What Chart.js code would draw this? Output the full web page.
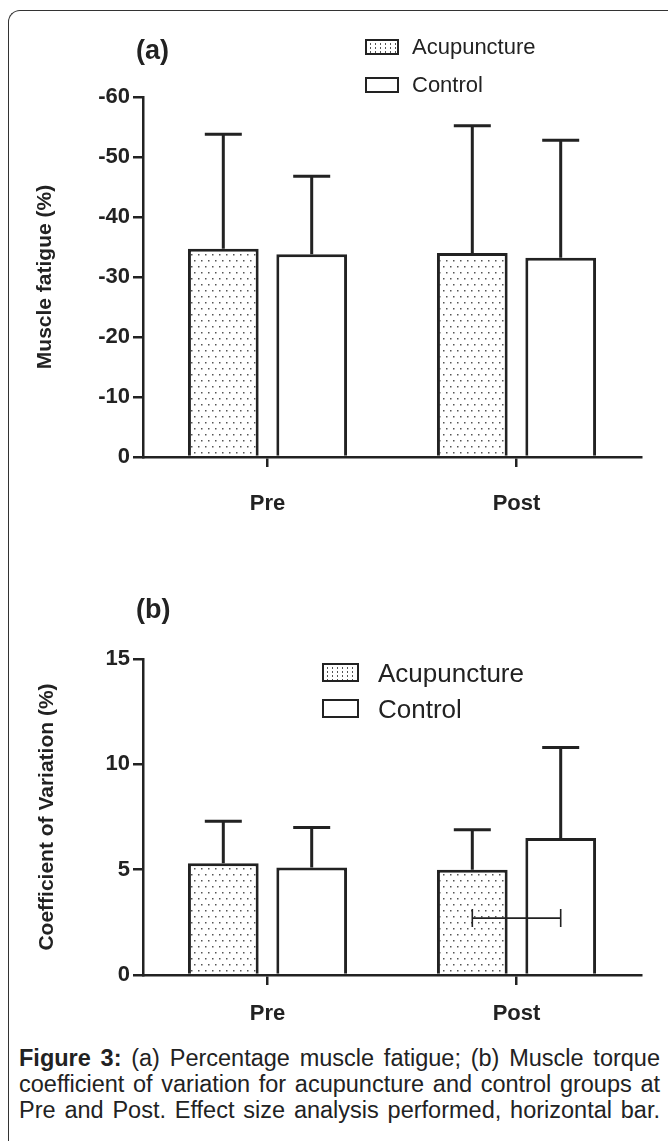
<!DOCTYPE html>
<html>
<head>
<meta charset="utf-8">
<script src="https://cdn.jsdelivr.net/npm/chart.js@4.4.1/dist/chart.umd.min.js"></script>
<style>
  body { margin: 0; background: #fff; }
  #page { position: relative; width: 668px; height: 1141px; overflow: hidden; background: #fff;
    font-family: "Liberation Sans", Arial, sans-serif; color: #222; }
  #frame { position: absolute; left: 8px; top: 10px; width: 720px; height: 1200px;
    border-left: 1.5px solid #333; border-top: 1.5px solid #333; border-top-left-radius: 12px; }
  canvas { position: absolute; left: 0; }
  .panel { position: absolute; font-weight: bold; font-size: 27px; }
  .leg { position: absolute; line-height: 1; }
  .sw { position: absolute; box-sizing: border-box; border: 2.5px solid #222; background: #fff; }
  .sw.dots { background-color: #fff;
    background-image: radial-gradient(circle, #555 0.8px, transparent 1.1px);
    background-size: 5px 4px; background-position: 1px 1px; }
  #caption { position: absolute; left: 19px; top: 1045px; width: 641px; font-size: 23.5px; line-height: 26px; }
  #caption div { white-space: nowrap; text-align: justify; text-align-last: justify; }
</style>
</head>
<body>
<div id="page">
  <div id="frame"></div>
  <canvas id="chartA" width="668" height="527" style="top:0"></canvas>
  <canvas id="chartB" width="668" height="485" style="top:560px"></canvas>

  <div class="panel" style="left:136px; top:35px;">(a)</div>
  <div class="sw dots" style="left:365px; top:39px; width:34px; height:16px;"></div>
  <div class="leg" style="left:412px; top:36px; font-size:22px;">Acupuncture</div>
  <div class="sw" style="left:365px; top:77px; width:34px; height:16px;"></div>
  <div class="leg" style="left:412px; top:74px; font-size:22px;">Control</div>

  <div class="panel" style="left:136px; top:594px;">(b)</div>
  <div class="sw dots" style="left:322px; top:663px; width:37px; height:19px;"></div>
  <div class="leg" style="left:378px; top:660px; font-size:26px;">Acupuncture</div>
  <div class="sw" style="left:322px; top:699px; width:37px; height:19px;"></div>
  <div class="leg" style="left:378px; top:696px; font-size:26px;">Control</div>

  <div id="caption">
    <div><b>Figure 3:</b> (a) Percentage muscle fatigue; (b) Muscle torque</div>
    <div>coefficient of variation for acupuncture and control groups at</div>
    <div>Pre and Post. Effect size analysis performed, horizontal bar.</div>
  </div>
</div>

<script>
/* ---------------- DATA ---------------- */
const categories = ["Pre", "Post"];
const seriesNames = ["Acupuncture", "Control"];

// (a) muscle fatigue (%), bar means and top of the error bars
const fatigueAcupuncture = [-34.7, -34.0];
const fatigueControl = [-33.8, -33.2];
const fatigueAcupunctureErr = [-53.8, -55.2];
const fatigueControlErr = [-46.8, -52.8];

// (b) coefficient of variation (%)
const cvAcupuncture = [5.3, 5.0];
const cvControl = [5.1, 6.5];
const cvAcupunctureErr = [7.3, 6.9];
const cvControlErr = [7.0, 10.8];
const cvEffectSizeLevel = 2.7;   // height of the effect size bar at Post

/* ---------------- STYLE HELPERS ---------------- */
const INK = "#222";
const FONT = '"Liberation Sans", Arial, sans-serif';

function dotPattern() {
  const c = document.createElement("canvas");
  c.width = 14; c.height = 12;
  const g = c.getContext("2d");
  g.fillStyle = "#fff";
  g.fillRect(0, 0, 14, 12);
  g.fillStyle = "#555";
  [[2, 2], [9, 2], [5, 8], [12, 8]].forEach(p => g.fillRect(p[0], p[1], 1.5, 1.5));
  return g.createPattern(c, "repeat");
}

// error bars drawn upward only, plus optional effect size bar
function errorBarPlugin(tops, effect) {
  return {
    id: "errorBars",
    afterDatasetsDraw(chart) {
      const ctx = chart.ctx;
      const y = chart.scales.y;
      ctx.save();
      ctx.strokeStyle = INK;
      ctx.lineCap = "butt";
      tops.forEach((arr, di) => {
        chart.getDatasetMeta(di).data.forEach((bar, i) => {
          const yTop = y.getPixelForValue(arr[i]);
          ctx.lineWidth = 3;
          ctx.beginPath();
          ctx.moveTo(bar.x, bar.y);
          ctx.lineTo(bar.x, yTop);
          ctx.moveTo(bar.x - 18.5, yTop);
          ctx.lineTo(bar.x + 18.5, yTop);
          ctx.stroke();
        });
      });
      if (effect) {
        const x1 = chart.getDatasetMeta(0).data[effect.index].x;
        const x2 = chart.getDatasetMeta(1).data[effect.index].x;
        const yy = y.getPixelForValue(effect.level);
        ctx.lineWidth = 1.6;
        ctx.beginPath();
        ctx.moveTo(x1, yy); ctx.lineTo(x2, yy);
        ctx.moveTo(x1, yy - 9); ctx.lineTo(x1, yy + 9);
        ctx.moveTo(x2, yy - 9); ctx.lineTo(x2, yy + 9);
        ctx.stroke();
      }
      ctx.restore();
    }
  };
}

function makeChart(id, acup, ctrl, yOpts, padTop, labelPad, tops, effect) {
  const ctx = document.getElementById(id).getContext("2d");
  return new Chart(ctx, {
    type: "bar",
    data: {
      labels: categories,
      datasets: [
        { label: seriesNames[0], data: acup, backgroundColor: dotPattern(),
          borderColor: INK, borderWidth: 3, borderSkipped: "bottom" },
        { label: seriesNames[1], data: ctrl, backgroundColor: "#fff",
          borderColor: INK, borderWidth: 3, borderSkipped: "bottom" }
      ]
    },
    options: {
      responsive: false,
      animation: false,
      categoryPercentage: 0.71,
      barPercentage: 0.8,
      layout: { padding: { top: padTop, right: 27, left: 0, bottom: 0 } },
      plugins: { legend: { display: false }, tooltip: { enabled: false } },
      scales: {
        x: {
          grid: { drawOnChartArea: false, offset: false, tickLength: 10, color: INK, lineWidth: 2.5 },
          border: { color: INK, width: 2.5 },
          ticks: { color: INK, padding: labelPad, font: { family: FONT, size: 22, weight: "bold" } },
          afterFit: s => { s.height = 70; }
        },
        y: Object.assign({
          grid: { drawOnChartArea: false, tickLength: 10, color: INK, lineWidth: 2.5 },
          border: { color: INK, width: 2.5 },
          afterFit: s => { s.width = 143; }
        }, yOpts)
      }
    },
    plugins: [errorBarPlugin(tops, effect)]
  });
}

/* ---------------- (a) MUSCLE FATIGUE ---------------- */
makeChart("chartA", fatigueAcupuncture, fatigueControl, {
  reverse: true, min: -60, max: 0,
  ticks: { stepSize: 10, color: INK, padding: 3, font: { family: FONT, size: 22, weight: "bold" } },
  title: { display: true, text: "Muscle fatigue (%)", color: INK, padding: { top: 33, bottom: 0 },
    font: { family: FONT, size: 21, weight: "bold" } }
}, 97, 24, [fatigueAcupunctureErr, fatigueControlErr], null);

/* ---------------- (b) COEFFICIENT OF VARIATION ---------------- */
makeChart("chartB", cvAcupuncture, cvControl, {
  min: 0, max: 15,
  ticks: { stepSize: 5, color: INK, padding: 3, font: { family: FONT, size: 22, weight: "bold" } },
  title: { display: true, text: "Coefficient of Variation (%)", color: INK, padding: { top: 35, bottom: 0 },
    font: { family: FONT, size: 21, weight: "bold" } }
}, 99, 16, [cvAcupunctureErr, cvControlErr], { index: 1, level: cvEffectSizeLevel });
</script>
</body>
</html>
